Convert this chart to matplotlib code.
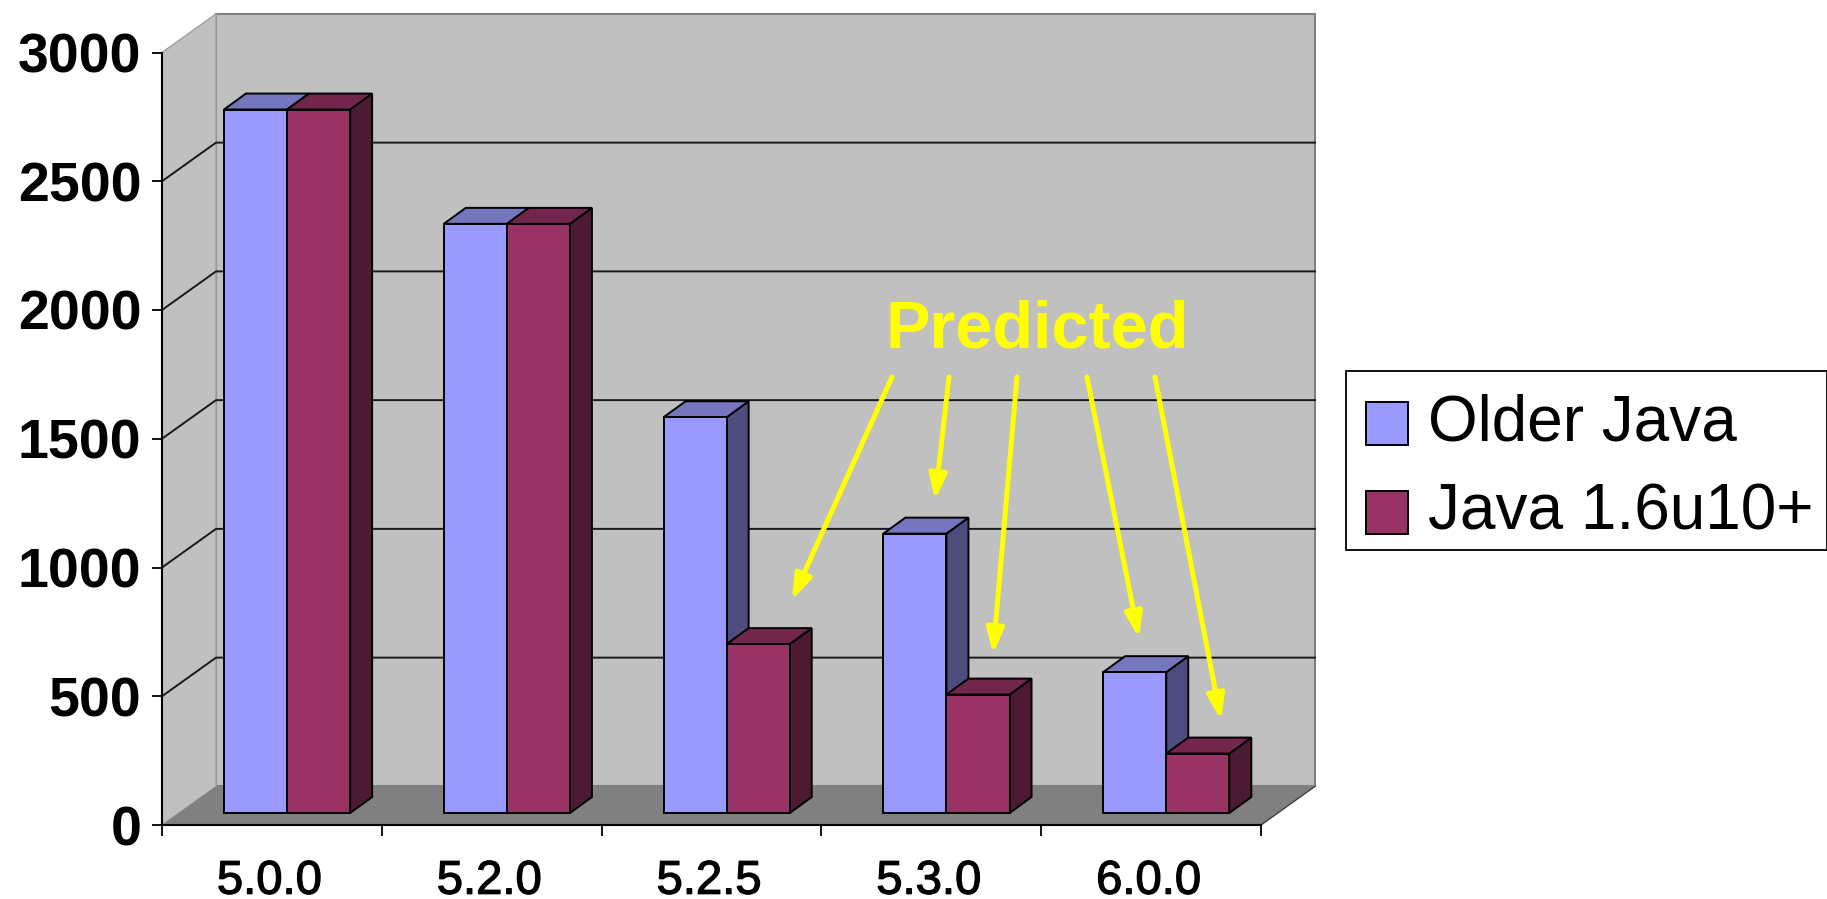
import matplotlib
matplotlib.use('Agg')
import matplotlib.pyplot as plt
import matplotlib.patheffects as pe
from matplotlib.patches import Rectangle
import numpy as np

categories = ['5.0.0', '5.2.0', '5.2.5', '5.3.0', '6.0.0']
older_java = [2732, 2288, 1537, 1085, 547]
new_java = [2732, 2288, 656, 460, 231]
y_ticks = [0, 500, 1000, 1500, 2000, 2500, 3000]

W, H = 1827, 899
plt.rcParams['font.family'] = ['Liberation Sans', 'DejaVu Sans']

fig = plt.figure(figsize=(W / 100, H / 100), dpi=100)
ax = fig.add_axes([162 / W, (H - 825) / H, 1099 / W, 772.5 / H])
ax.patch.set_visible(False)

n = len(categories)
wall_dx, wall_dy = 0.2457, 150  # depth of the chart box, data units
bar_dx, bar_dy = 0.1, 62        # depth of a bar
bar_w = 0.287
base = 46.6                     # bars stand a little inside the floor


def face(xs, ys, color, z, edge='none', lw=0):
    ax.fill(xs, ys, facecolor=color, edgecolor=edge, linewidth=lw, zorder=z, clip_on=False)


# walls and floor
top = y_ticks[-1]
face([wall_dx, n + wall_dx, n + wall_dx, wall_dx],
     [wall_dy, wall_dy, top + wall_dy, top + wall_dy], '#C0C0C0', 1, '#808080', 1.5)
face([0, wall_dx, wall_dx, 0], [0, wall_dy, top + wall_dy, top], '#C0C0C0', 1, '#A0A0A0', 1)
face([0, n, n + wall_dx, wall_dx], [0, 0, wall_dy, wall_dy], '#808080', 1.5)
ax.plot([n, n + wall_dx], [0, wall_dy], color='#404040', lw=1, zorder=1.6, clip_on=False)

# gridlines run along the side wall, then the back wall
for v in y_ticks[1:-1]:
    ax.plot([0, wall_dx, n + wall_dx], [v, v + wall_dy, v + wall_dy],
            color='#1A1A1A', lw=1.4, zorder=2, clip_on=False)

x = np.arange(n)
series = [
    (older_java, 0.282, '#9999FF', '#7676BF', '#4D4D80', 'Older Java'),
    (new_java, 0.569, '#993366', '#73264C', '#4D1A33', 'Java 1.6u10+'),
]
handles = []
z = 3
for vals, off, front, top_c, side_c, label in series:
    for xi, v in zip(x, vals):
        l = xi + off
        r = l + bar_w
        t = base + v
        face([r, r + bar_dx, r + bar_dx, r], [base, base + bar_dy, t + bar_dy, t], side_c, z, 'black', 1.4)
        face([l, r, r + bar_dx, l + bar_dx], [t, t, t + bar_dy, t + bar_dy], top_c, z, 'black', 1.4)
    bars = ax.bar(x + off, vals, width=bar_w, bottom=base, align='edge', color=front,
                  edgecolor='black', linewidth=1.4, zorder=z + 0.5, label=label, clip_on=False)
    handles.append(bars)
    z += 1

ax.set_xlim(0, n)
ax.set_ylim(0, top)
for s in ['top', 'right']:
    ax.spines[s].set_visible(False)
for s in ['left', 'bottom']:
    ax.spines[s].set_linewidth(1.5)
    ax.spines[s].set_zorder(2.5)

ax.set_yticks(y_ticks)
ax.set_yticklabels(y_ticks, fontsize=40, fontweight='bold')
ax.tick_params(axis='y', length=7, width=1.3, pad=8)
ax.set_xticks(np.arange(n + 1))
ax.set_xticklabels([])
ax.tick_params(axis='x', which='major', length=8, width=1.3)
ax.set_xticks(x + 0.49, minor=True)
ax.set_xticklabels(categories, minor=True, fontsize=34,
                   path_effects=[pe.withStroke(linewidth=0.9, foreground='black')])
ax.tick_params(axis='x', which='minor', length=0, pad=25)

# legend box runs to the right edge of the picture
fig.add_artist(Rectangle((1346 / W, 1 - 550 / H), 481 / W, 179 / H, transform=fig.transFigure,
                         facecolor='white', edgecolor='black', linewidth=1.3, zorder=-1))
leg = ax.legend(handles=handles, loc='upper left', bbox_to_anchor=(1346 / W, 1 - 373 / H),
                bbox_transform=fig.transFigure, borderaxespad=0, fontsize=46, frameon=False,
                handlelength=0.65, handleheight=0.65, handletextpad=0.31, borderpad=0.32,
                labelspacing=0.45)
for h in leg.legend_handles:
    h.set_y(h.get_y() - 4)

# annotation drawn over the chart
fig.text(1037 / W, 1 - 348 / H, 'Predicted', color='#FFFF00', fontsize=48, fontweight='bold',
         ha='center', va='baseline', zorder=10)
arrows = [((892, 377), (792, 600)), ((949, 377), (935, 500)), ((1017, 377), (993, 654)),
          ((1087, 377), (1139, 638)), ((1155, 377), (1221, 720))]
for (x0, y0), (x1, y1) in arrows:
    ax.annotate('', xy=(x1, H - y1), xytext=(x0, H - y0), xycoords='figure pixels',
                textcoords='figure pixels', zorder=10,
                arrowprops=dict(arrowstyle='-|>,head_length=0.75,head_width=0.26', color='#FFFF00',
                                lw=3.6, mutation_scale=20, shrinkA=0, shrinkB=0))

fig.savefig('out.png', dpi=100)
